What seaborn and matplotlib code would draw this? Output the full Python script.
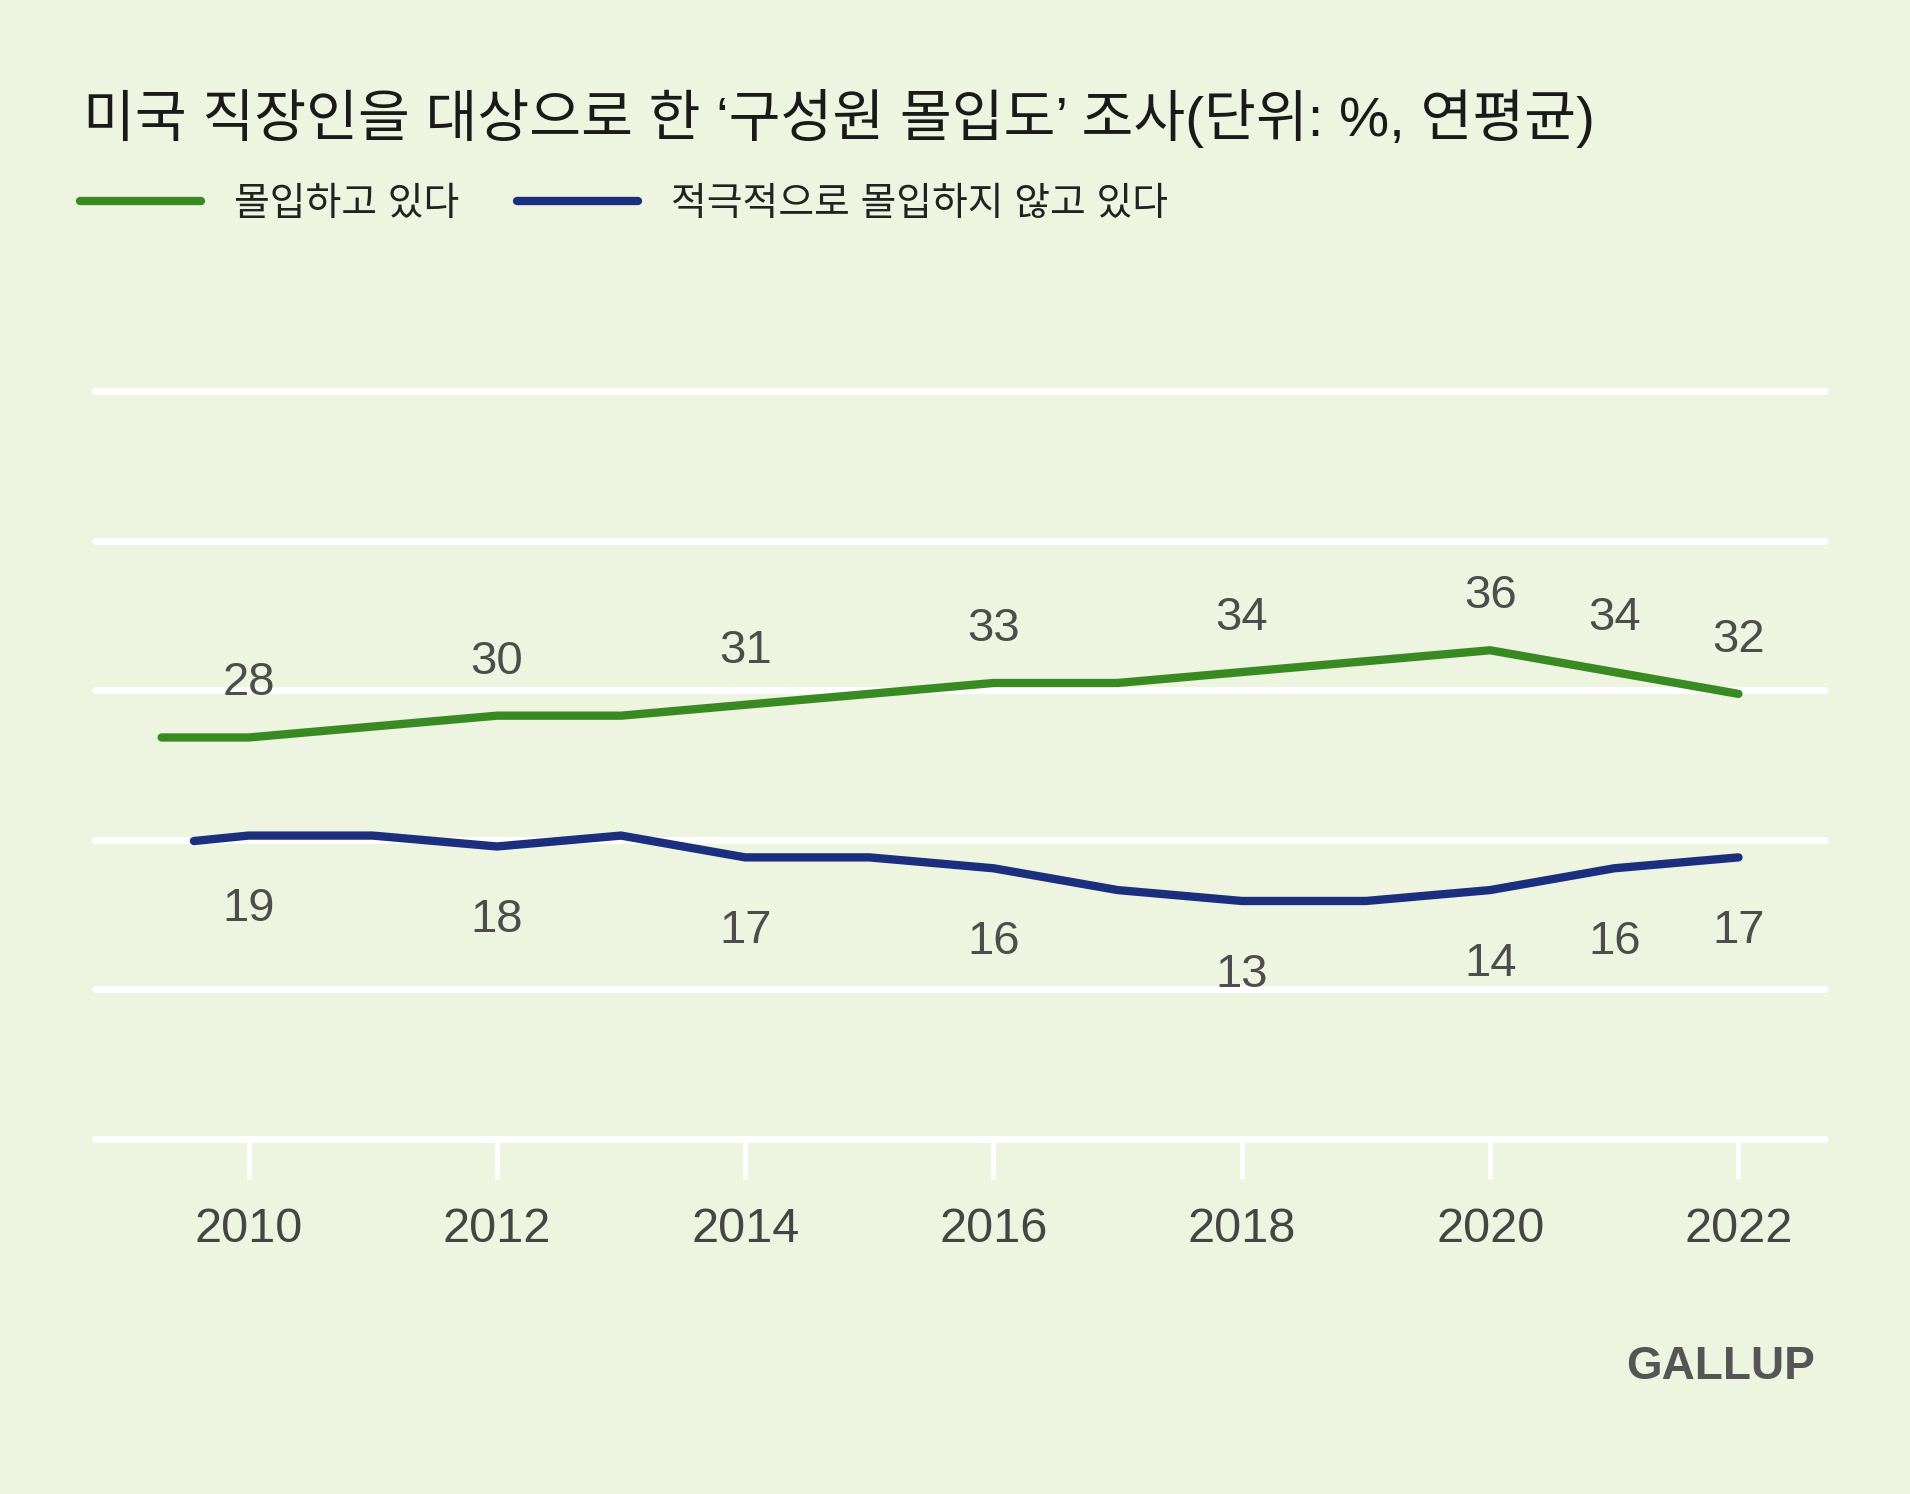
import pandas as pd
import numpy as np
import matplotlib
matplotlib.use("Agg")
import matplotlib.pyplot as plt
import seaborn as sns

# data
engaged_years = [2009.3, 2010, 2011, 2012, 2013, 2014, 2015, 2016, 2017, 2018, 2019, 2020, 2021, 2022]
engaged_vals = [28, 28, 29, 30, 30, 31, 32, 33, 33, 34, 35, 36, 34, 32]
disengaged_years = [2009.56, 2010, 2011, 2012, 2013, 2014, 2015, 2016, 2017, 2018, 2019, 2020, 2021, 2022]
disengaged_vals = [18.5, 19, 19, 18, 19, 17, 17, 16, 14, 13, 13, 14, 16, 17]

label_years = [2010, 2012, 2014, 2016, 2018, 2020, 2021, 2022]
tick_years = [2010, 2012, 2014, 2016, 2018, 2020, 2022]

series_names = ["몰입하고 있다", "적극적으로 몰입하지 않고 있다"]
title = "미국 직장인을 대상으로 한 ‘구성원 몰입도’ 조사(단위: %, 연평균)"

BG = "#EDF4DF"
GREEN = "#3A8A24"
BLUE = "#1B2F7E"
TEXT_GRAY = "#4d4d4d"

df = pd.concat([
    pd.DataFrame({"year": engaged_years, "value": engaged_vals, "series": series_names[0]}),
    pd.DataFrame({"year": disengaged_years, "value": disengaged_vals, "series": series_names[1]}),
])

sns.set_theme(style="white")
plt.rcParams["font.family"] = ["Liberation Sans", "Noto Sans CJK KR"]

fig = plt.figure(figsize=(19.1, 14.94), dpi=100)
fig.patch.set_facecolor(BG)
ax = fig.add_axes([0.0497, 0.2376, 0.9058, 0.5007])
ax.set_facecolor(BG)

sns.lineplot(data=df, x="year", y="value", hue="series",
             palette=[GREEN, BLUE], linewidth=6, ax=ax, legend=True)

y_lo, y_hi = -8.84, 59.79
ax.set_ylim(y_lo, y_hi)
ax.set_xlim(2008.763, 2022.697)
for gy in np.linspace(y_lo, y_hi, 6):
    ax.axhline(gy, color="white", linewidth=5, clip_on=False, zorder=0)

for s in ax.spines.values():
    s.set_visible(False)
ax.set_yticks([])
ax.set_xticks(tick_years)
ax.set_xticklabels([str(y) for y in tick_years])
ax.tick_params(axis="x", bottom=True, direction="out", length=29, width=3.5, color="white",
               pad=20, labelsize=35, labelcolor="#454545")
ax.set_xlabel("")
ax.set_ylabel("")

# value labels
for yr in label_years:
    v = engaged_vals[engaged_years.index(yr)]
    ax.annotate(str(v), (yr, v), xytext=(0, 39), textcoords="offset points",
                ha="center", va="center", fontsize=34, color=TEXT_GRAY)
    v = disengaged_vals[disengaged_years.index(yr)]
    ax.annotate(str(v), (yr, v), xytext=(0, -53), textcoords="offset points",
                ha="center", va="center", fontsize=34, color=TEXT_GRAY)

# legend across the top
handles, labels = ax.get_legend_handles_labels()
ax.legend(handles, labels, loc="center left", bbox_to_anchor=(80 / 1910, 1 - 205 / 1494),
          bbox_transform=fig.transFigure, ncol=2, frameon=False, fontsize=28,
          handlelength=3.11, handletextpad=0.85, columnspacing=1.49,
          borderpad=0, borderaxespad=0, labelcolor="#222222")

fig.text(83 / 1910, 1 - 118 / 1494, title, ha="left", va="center",
         fontsize=40.6, color="#1a1a1a")
fig.text(1815 / 1910, 1 - 1367 / 1494, "GALLUP", ha="right", va="center",
         fontsize=33, fontweight="bold", color="#555555")

fig.savefig("out.png", dpi=100, facecolor=BG)
